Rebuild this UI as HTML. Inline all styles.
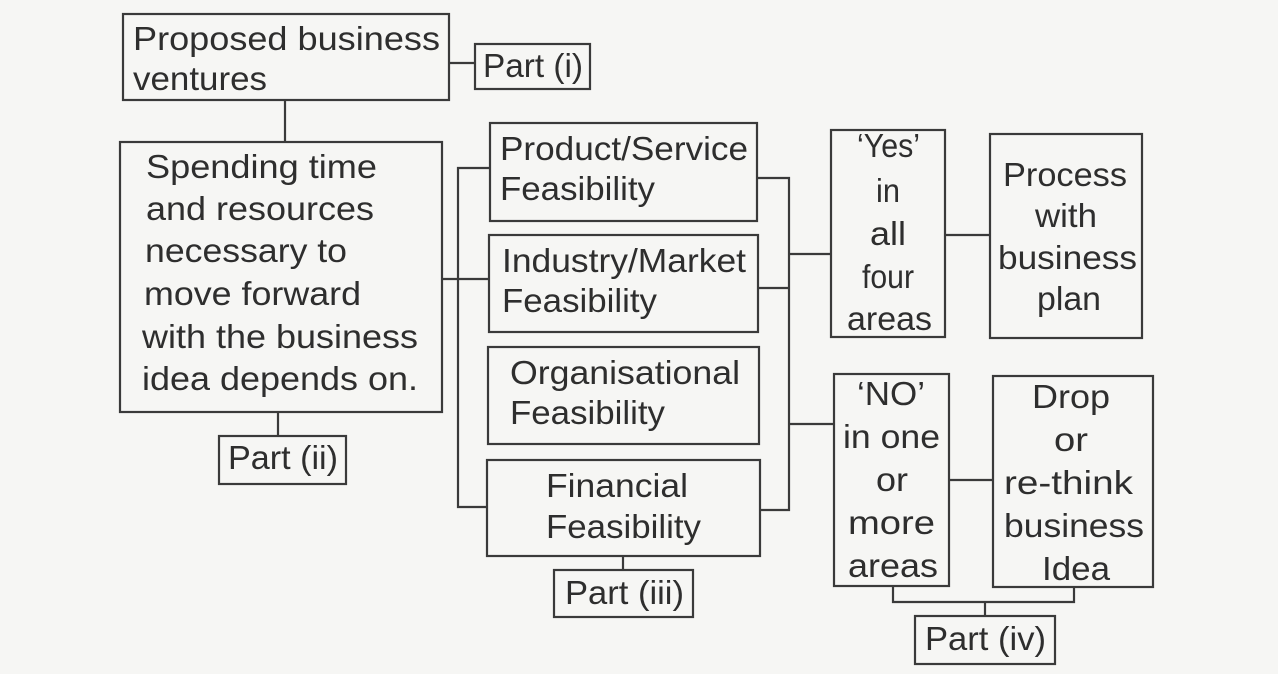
<!DOCTYPE html>
<html><head><meta charset="utf-8"><style>
html,body{margin:0;padding:0;background:#f6f6f4;}
svg{display:block;}
text{font-family:"Liberation Sans",sans-serif;font-size:33px;fill:#2e2e2e;}
</style></head><body>
<svg width="1278" height="674" viewBox="0 0 1278 674">
<g fill="none" stroke="#3a3a3a" stroke-width="2.2">
<rect x="123" y="14" width="326" height="86"/>
<rect x="475" y="44" width="115" height="45"/>
<line x1="449" y1="63" x2="475" y2="63"/>
<line x1="285" y1="100" x2="285" y2="142"/>
<rect x="120" y="142" width="322" height="270"/>
<line x1="278" y1="412" x2="278" y2="436"/>
<rect x="219" y="436" width="127" height="48"/>
<line x1="442" y1="279" x2="489" y2="279"/>
<polyline points="490,168 458,168 458,507 487,507"/>
<rect x="490" y="123" width="267" height="98"/>
<rect x="489" y="235" width="269" height="97"/>
<rect x="488" y="347" width="271" height="97"/>
<rect x="487" y="460" width="273" height="96"/>
<polyline points="757,178 789,178 789,510 760,510"/>
<line x1="758" y1="288" x2="789" y2="288"/>
<line x1="789" y1="254" x2="831" y2="254"/>
<line x1="789" y1="424" x2="834" y2="424"/>
<rect x="831" y="130" width="114" height="207"/>
<line x1="945" y1="235" x2="990" y2="235"/>
<rect x="990" y="134" width="152" height="204"/>
<rect x="834" y="374" width="115" height="212"/>
<line x1="949" y1="480" x2="993" y2="480"/>
<rect x="993" y="376" width="160" height="211"/>
<polyline points="893,586 893,602 1074,602 1074,587"/>
<line x1="985" y1="602" x2="985" y2="616"/>
<rect x="915" y="616" width="140" height="48"/>
<line x1="623" y1="556" x2="623" y2="570"/>
<rect x="554" y="570" width="139" height="47"/>
</g>
<g lengthAdjust="spacingAndGlyphs">
<text x="133" y="50" textLength="307" lengthAdjust="spacingAndGlyphs">Proposed business</text>
<text x="133" y="90" textLength="134" lengthAdjust="spacingAndGlyphs">ventures</text>
<text x="483" y="77" textLength="100" lengthAdjust="spacingAndGlyphs">Part (i)</text>
<text x="146" y="178" textLength="231" lengthAdjust="spacingAndGlyphs">Spending time</text>
<text x="146" y="220" textLength="228" lengthAdjust="spacingAndGlyphs">and resources</text>
<text x="145" y="262" textLength="202" lengthAdjust="spacingAndGlyphs">necessary to</text>
<text x="144" y="305" textLength="217" lengthAdjust="spacingAndGlyphs">move forward</text>
<text x="142" y="348" textLength="276" lengthAdjust="spacingAndGlyphs">with the business</text>
<text x="142" y="390" textLength="276" lengthAdjust="spacingAndGlyphs">idea depends on.</text>
<text x="228" y="469" textLength="110" lengthAdjust="spacingAndGlyphs">Part (ii)</text>
<text x="500" y="160" textLength="248" lengthAdjust="spacingAndGlyphs">Product/Service</text>
<text x="500" y="200" textLength="155" lengthAdjust="spacingAndGlyphs">Feasibility</text>
<text x="502" y="272" textLength="244" lengthAdjust="spacingAndGlyphs">Industry/Market</text>
<text x="502" y="312" textLength="155" lengthAdjust="spacingAndGlyphs">Feasibility</text>
<text x="510" y="384" textLength="230" lengthAdjust="spacingAndGlyphs">Organisational</text>
<text x="510" y="424" textLength="155" lengthAdjust="spacingAndGlyphs">Feasibility</text>
<text x="546" y="497" textLength="142" lengthAdjust="spacingAndGlyphs">Financial</text>
<text x="546" y="538" textLength="155" lengthAdjust="spacingAndGlyphs">Feasibility</text>
<text x="565" y="604" textLength="119" lengthAdjust="spacingAndGlyphs">Part (iii)</text>
<text x="857" y="157" textLength="63" lengthAdjust="spacingAndGlyphs">‘Yes’</text>
<text x="876" y="202" textLength="24" lengthAdjust="spacingAndGlyphs">in</text>
<text x="870" y="245" textLength="36" lengthAdjust="spacingAndGlyphs">all</text>
<text x="862" y="288" textLength="52" lengthAdjust="spacingAndGlyphs">four</text>
<text x="847" y="330" textLength="85" lengthAdjust="spacingAndGlyphs">areas</text>
<text x="1003" y="186" textLength="124" lengthAdjust="spacingAndGlyphs">Process</text>
<text x="1035" y="227" textLength="62" lengthAdjust="spacingAndGlyphs">with</text>
<text x="998" y="269" textLength="139" lengthAdjust="spacingAndGlyphs">business</text>
<text x="1037" y="310" textLength="64" lengthAdjust="spacingAndGlyphs">plan</text>
<text x="857" y="405" textLength="68" lengthAdjust="spacingAndGlyphs">‘NO’</text>
<text x="843" y="448" textLength="97" lengthAdjust="spacingAndGlyphs">in one</text>
<text x="876" y="491" textLength="32" lengthAdjust="spacingAndGlyphs">or</text>
<text x="848" y="534" textLength="87" lengthAdjust="spacingAndGlyphs">more</text>
<text x="848" y="577" textLength="90" lengthAdjust="spacingAndGlyphs">areas</text>
<text x="1032" y="408" textLength="78" lengthAdjust="spacingAndGlyphs">Drop</text>
<text x="1054" y="451" textLength="34" lengthAdjust="spacingAndGlyphs">or</text>
<text x="1004" y="494" textLength="129" lengthAdjust="spacingAndGlyphs">re-think</text>
<text x="1004" y="537" textLength="140" lengthAdjust="spacingAndGlyphs">business</text>
<text x="1042" y="580" textLength="68" lengthAdjust="spacingAndGlyphs">Idea</text>
<text x="925" y="650" textLength="121" lengthAdjust="spacingAndGlyphs">Part (iv)</text>
</g>
</svg>
</body></html>
